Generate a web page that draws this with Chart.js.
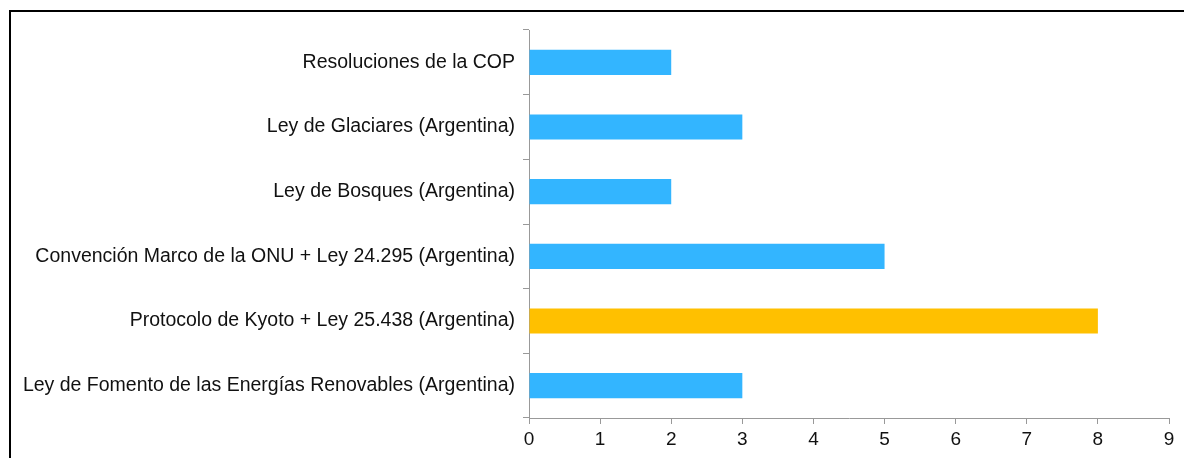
<!DOCTYPE html>
<html>
<head>
<meta charset="utf-8">
<script src="https://cdn.jsdelivr.net/npm/chart.js@4"></script>
<style>
  body { margin: 0; background: #fff; overflow: hidden; }
  .frame { position: absolute; left: 9px; top: 10px; width: 1300px; height: 600px; border: 2px solid #000; }
  .wrap { position: absolute; left: 0; top: 0; width: 1184px; height: 458px; }
</style>
</head>
<body>
<div class="frame"></div>
<div class="wrap"><canvas id="chart"></canvas></div>
<script>
// instruments, first in the list is drawn at the top
var leyes = [
  "Resoluciones de la COP",
  "Ley de Glaciares (Argentina)",
  "Ley de Bosques (Argentina)",
  "Convención Marco de la ONU + Ley 24.295 (Argentina)",
  "Protocolo de Kyoto + Ley 25.438 (Argentina)",
  "Ley de Fomento de las Energías Renovables (Argentina)"
];
var menciones = [2, 3, 2, 5, 8, 3];
var colores = ["#33b5ff", "#33b5ff", "#33b5ff", "#33b5ff", "#ffc000", "#33b5ff"];
var ticksX = [0, 1, 2, 3, 4, 5, 6, 7, 8, 9];

var ctx = document.getElementById("chart").getContext("2d");
var myChart = new Chart(ctx, {
  type: "bar",
  data: {
    labels: leyes,
    datasets: [{
      data: menciones,
      backgroundColor: colores,
      borderWidth: 0,
      barPercentage: 0.39,
      categoryPercentage: 1
    }]
  },
  options: {
    indexAxis: "y",
    responsive: true,
    maintainAspectRatio: false,
    animation: false,
    layout: { padding: { top: 30, right: 15, bottom: 0, left: 0 } },
    plugins: { legend: { display: false }, tooltip: { enabled: false } },
    scales: {
      x: {
        min: 0,
        max: 9,
        afterBuildTicks: function(scale) {
          scale.ticks = ticksX.map(function(v) { return { value: v }; });
        },
        afterFit: function(scale) { scale.height = 40; },
        grid: { drawOnChartArea: false, color: "#999", tickLength: 6 },
        border: { color: "#999", width: 1 },
        ticks: { color: "#111", padding: 4, font: { family: "Liberation Sans, Arial", size: 19 } }
      },
      y: {
        afterFit: function(scale) { scale.width = 529; },
        grid: { drawOnChartArea: false, color: "#999", tickLength: 6, offset: true },
        border: { color: "#999", width: 1 },
        ticks: { color: "#111", padding: 8, font: { family: "Liberation Sans, Arial", size: 19.5 } }
      }
    }
  }
});
</script>
</body>
</html>
